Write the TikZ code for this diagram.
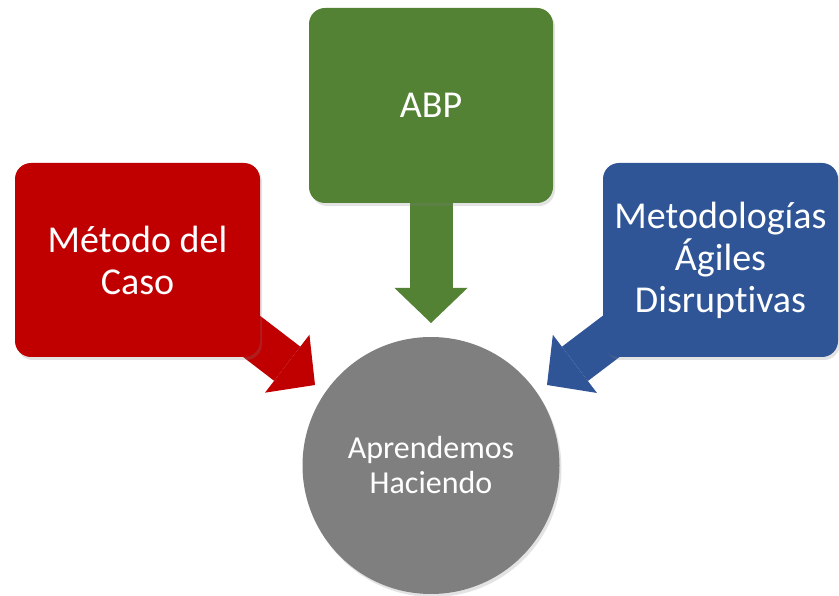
\documentclass[tikz,border=0pt]{standalone}
\usepackage{fontspec}
\setmainfont{Carlito}[Ligatures=NoCommon]
\usetikzlibrary{arrows.meta, shapes, positioning, calc, shadows, backgrounds}

\definecolor{casored}{HTML}{C00000}
\definecolor{abpgreen}{HTML}{548235}
\definecolor{agileblue}{HTML}{2F5597}
\definecolor{circlegray}{HTML}{7F7F7F}

\tikzset{
    softshadow/.style={drop shadow={opacity=0.22, shadow xshift=2pt, shadow yshift=-3pt}},
    methodbox/.style={rectangle, rounded corners=16pt, minimum width=#1, minimum height=194pt,
        inner sep=0pt, align=center, text=white, font=\fontsize{38}{42}\selectfont, softshadow},
    blockarrow/.style={line width=43pt, -{Triangle[length=35pt, width=73pt, line width=0pt]}},
}

\begin{document}
\begin{tikzpicture}[x=1pt, y=-1pt]
        \useasboundingbox (0,0) rectangle (839,596);

        % method boxes
        \node[methodbox=245pt, fill=casored] (caso) at (137.5,260) {Método del\\Caso};
        \node[methodbox=244pt, minimum height=195pt, fill=abpgreen] (abp) at (431,105.5) {ABP};
        \node[methodbox=235pt, fill=agileblue] (agiles) at (720.5,260) {Metodologías\\Ágiles\\Disruptivas};

        % centre circle
        \node[circle, minimum size=257pt, inner sep=0pt, fill=circlegray, align=center, text=white,
            font=\fontsize{32}{35}\selectfont, softshadow] (hacer) at (431,465.5) {Aprendemos\\Haciendo};

        % arrow tips (just short of the circle)
        \coordinate (tipcaso) at (315,385);
        \coordinate (tipabp) at (431,323);
        \coordinate (tipagiles) at (547,385);

        % block arrows, behind the boxes
        \begin{scope}[on background layer]
            \draw[blockarrow, casored] ($(caso.south east)+(-35,-41)$) -- (tipcaso);
            \draw[blockarrow, abpgreen] (abp.center) -- (tipabp);
            \draw[blockarrow, agileblue] ($(agiles.south west)+(35,-41)$) -- (tipagiles);
        \end{scope}
\end{tikzpicture}
\end{document}
